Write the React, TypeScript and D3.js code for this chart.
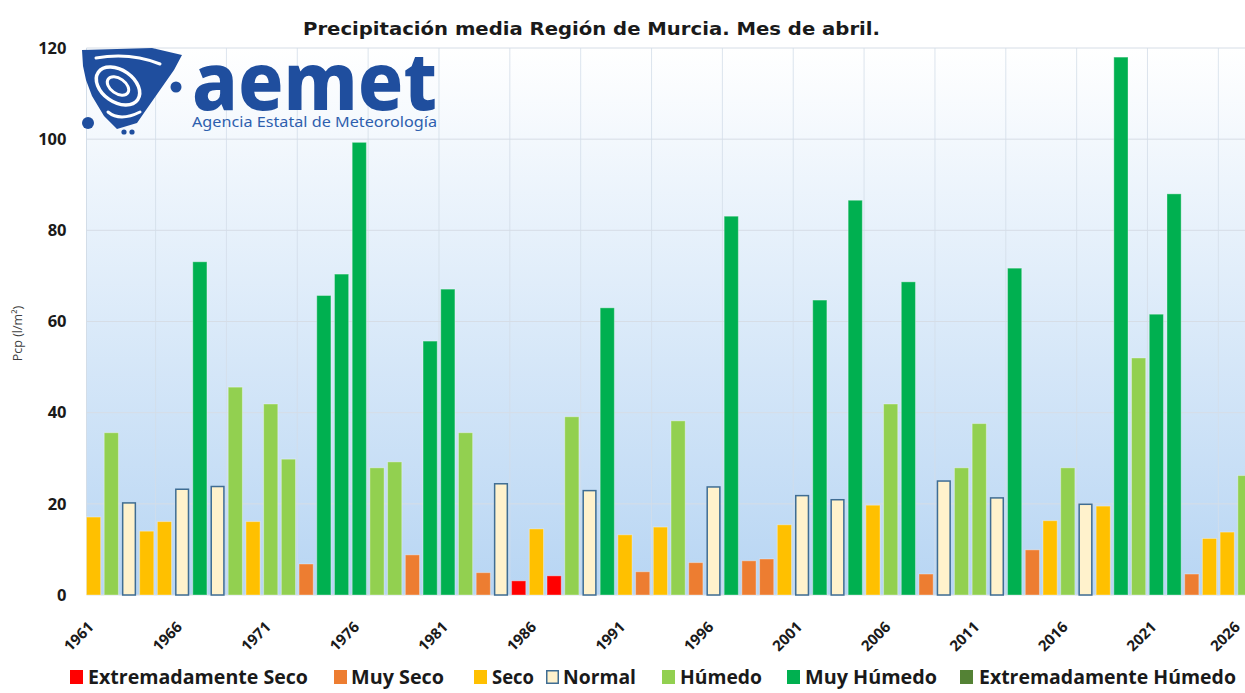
import React from "react";
import * as d3 from "d3";

const years = [
  1961, 1962, 1963, 1964, 1965, 1966, 1967, 1968, 1969, 1970,
  1971, 1972, 1973, 1974, 1975, 1976, 1977, 1978, 1979, 1980,
  1981, 1982, 1983, 1984, 1985, 1986, 1987, 1988, 1989, 1990,
  1991, 1992, 1993, 1994, 1995, 1996, 1997, 1998, 1999, 2000,
  2001, 2002, 2003, 2004, 2005, 2006, 2007, 2008, 2009, 2010,
  2011, 2012, 2013, 2014, 2015, 2016, 2017, 2018, 2019, 2020,
  2021, 2022, 2023, 2024, 2025, 2026,
];

const pcp = [
  17.1, 35.6, 20.2, 14.0, 16.1, 23.2, 73.1, 23.8, 45.6, 16.1,
  41.9, 29.8, 6.8, 65.7, 70.4, 99.3, 27.9, 29.2, 8.8, 55.7,
  67.1, 35.6, 4.9, 24.4, 3.1, 14.5, 4.2, 39.1, 22.9, 63.0,
  13.2, 5.1, 14.9, 38.2, 7.1, 23.7, 83.1, 7.5, 7.9, 15.4,
  21.8, 64.7, 20.9, 86.6, 19.7, 41.9, 68.7, 4.6, 25.0, 27.9,
  37.6, 21.3, 71.7, 9.9, 16.3, 27.9, 19.9, 19.5, 118.0, 52.0,
  61.6, 88.0, 4.6, 12.4, 13.8, 26.2,
];

// ES: Extremadamente Seco, MS: Muy Seco, S: Seco, N: Normal, H: Húmedo, MH: Muy Húmedo, EH: Extremadamente Húmedo
const category = [
  "S", "H", "N", "S", "S", "N", "MH", "N", "H", "S",
  "H", "H", "MS", "MH", "MH", "MH", "H", "H", "MS", "MH",
  "MH", "H", "MS", "N", "ES", "S", "ES", "H", "N", "MH",
  "S", "MS", "S", "H", "MS", "N", "MH", "MS", "MS", "S",
  "N", "MH", "N", "MH", "S", "H", "MH", "MS", "N", "H",
  "H", "N", "MH", "MS", "S", "H", "N", "S", "MH", "H",
  "MH", "MH", "MS", "S", "S", "H",
];

const tickYears = [1961, 1966, 1971, 1976, 1981, 1986, 1991, 1996, 2001, 2006, 2011, 2016, 2021, 2026];
const yTicks = [0, 20, 40, 60, 80, 100, 120];

const classKeys = ["ES", "MS", "S", "N", "H", "MH", "EH"];
const classNames = [
  "Extremadamente Seco", "Muy Seco", "Seco", "Normal", "Húmedo", "Muy Húmedo", "Extremadamente Húmedo",
];
const classColors = ["#ff0000", "#ed7d31", "#ffc000", "#fff2cc", "#92d050", "#00b050", "#548235"];

const title = "Precipitación media Región de Murcia. Mes de abril.";

// layout
const W = 1245;
const H = 693;
const plotLeft = 86.5;
const plotRight = 1252;
const plotTop = 48;
const plotBottom = 595;
const legendLayout = [
  { sq: 70, tx: 88, w: 220 },
  { sq: 334, tx: 351, w: 93 },
  { sq: 474, tx: 492, w: 42 },
  { sq: 546, tx: 563, w: 73 },
  { sq: 662, tx: 680, w: 82 },
  { sq: 787, tx: 805, w: 132 },
  { sq: 960, tx: 979, w: 257 },
];

const colorOf = d3.scaleOrdinal<string, string>().domain(classKeys).range(classColors);

export default function App() {
  const x = d3
    .scaleBand<number>()
    .domain(years)
    .range([plotLeft, plotRight])
    .paddingInner(0.2)
    .paddingOuter(0);
  const y = d3.scaleLinear().domain([0, 120]).range([plotBottom, plotTop]);
  const bw = x.bandwidth();
  const step = x.step();

  const vGrid = d3.range(4, years.length, 4).map((i) => (x(years[i]) as number) - step * 0.1);

  const fontAxis = "'Open Sans', 'Noto Sans', sans-serif";

  return (
    <svg
      width={W}
      height={H}
      style={{ position: "absolute", left: 0, top: 0, background: "#ffffff" }}
    >
      <defs>
        <linearGradient id="bg" x1="0" y1="0" x2="0" y2="1">
          <stop offset="0%" stopColor="#ffffff" />
          <stop offset="100%" stopColor="#b7d5f3" />
        </linearGradient>
      </defs>
      <rect x={0} y={0} width={W} height={H} fill="#ffffff" />
      <rect
        x={plotLeft}
        y={plotTop}
        width={W - plotLeft}
        height={plotBottom - plotTop}
        fill="url(#bg)"
      />
      {/* horizontal gridlines */}
      {yTicks.map((t) => (
        <line
          key={"h" + t}
          x1={plotLeft}
          x2={W}
          y1={y(t)}
          y2={y(t)}
          stroke="#d6dde6"
          strokeWidth={1}
        />
      ))}
      {/* vertical gridlines */}
      {vGrid.map((gx, i) => (
        <line
          key={"v" + i}
          x1={gx}
          x2={gx}
          y1={plotTop}
          y2={plotBottom}
          stroke="#d3dde8"
          strokeOpacity={0.8}
          strokeWidth={1}
        />
      ))}
      <line x1={plotLeft} x2={plotLeft} y1={plotTop} y2={plotBottom} stroke="#d3dde8" />

      {/* bars */}
      {years.map((yr, i) => {
        const c = category[i];
        const bx = x(yr) as number;
        const top = y(pcp[i]);
        const isNormal = c === "N";
        return (
          <rect
            key={yr}
            x={isNormal ? bx + 0.75 : bx}
            y={top}
            width={isNormal ? bw - 1.5 : bw}
            height={plotBottom - top}
            fill={colorOf(c)}
            stroke={isNormal ? "#3f6d93" : "#ffffff"}
            strokeOpacity={isNormal ? 1 : 0.35}
            strokeWidth={isNormal ? 1.5 : 1}
          />
        );
      })}

      {/* y axis labels */}
      {yTicks.map((t) => (
        <text
          key={"yl" + t}
          x={66.5}
          y={y(t) + 5.8}
          textAnchor="end"
          fontFamily={fontAxis}
          fontWeight={700}
          fontSize={16.5}
          fill="#1a1a1a"
        >
          {t}
        </text>
      ))}
      <text
        transform={`translate(22,${(plotTop + plotBottom) / 2 + 12}) rotate(-90)`}
        textAnchor="middle"
        fontFamily={fontAxis}
        fontSize={12.5}
        fill="#404040"
      >
        Pcp (l/m²)
      </text>

      {/* x axis labels */}
      {tickYears.map((t) => {
        const cx = (x(t) as number) + bw / 2;
        const ax = Math.min(cx + 1, W - 4);
        return (
          <text
            key={"xl" + t}
            transform={`translate(${ax},${628}) rotate(-45)`}
            textAnchor="end"
            fontFamily={fontAxis}
            fontWeight={700}
            fontSize={15}
            fill="#1a1a1a"
          >
            {t}
          </text>
        );
      })}

      {/* title */}
      <text
        x={591.5}
        y={35}
        textAnchor="middle"
        fontFamily="'DejaVu Sans', Verdana, sans-serif"
        fontWeight={700}
        fontSize={17}
        textLength={577}
        lengthAdjust="spacingAndGlyphs"
        fill="#1a1a1a"
      >
        {title}
      </text>

      {/* legend */}
      {classNames.map((name, i) => {
        const L = legendLayout[i];
        const isNormal = classKeys[i] === "N";
        return (
          <g key={"lg" + i}>
            <rect
              x={L.sq + (isNormal ? 0.75 : 0)}
              y={670 + (isNormal ? 0.75 : 0)}
              width={isNormal ? 11.5 : 13}
              height={isNormal ? 12.5 : 14}
              fill={classColors[i]}
              stroke={isNormal ? "#3f6d93" : "none"}
              strokeWidth={1.5}
            />
            <text
              x={L.tx}
              y={684}
              fontFamily={fontAxis}
              fontWeight={700}
              fontSize={19}
              textLength={L.w}
              lengthAdjust="spacingAndGlyphs"
              fill="#1a1a1a"
            >
              {name}
            </text>
          </g>
        );
      })}

      {/* AEMET logo */}
      <g>
        <path
          d="M82,50 L152,48 L182,55 L174,70 L160,90 L146,110 L137,123 L117,129 L104,116 L92,96 L86,80 L83,66 Z"
          fill="#1f4e9e"
        />
        <ellipse
          cx={118}
          cy={86}
          rx={24}
          ry={16}
          transform="rotate(35 118 86)"
          fill="none"
          stroke="#ffffff"
          strokeWidth={3.5}
        />
        <ellipse
          cx={118}
          cy={86}
          rx={12}
          ry={7.5}
          transform="rotate(35 118 86)"
          fill="none"
          stroke="#ffffff"
          strokeWidth={3}
        />
        <path
          d="M96,58 Q130,52 160,64 M140,112 Q120,122 108,112"
          fill="none"
          stroke="#ffffff"
          strokeWidth={3}
          strokeLinecap="round"
        />
        <circle cx={88} cy={123} r={6} fill="#1f4e9e" />
        <circle cx={124} cy={132} r={2.6} fill="#1f4e9e" />
        <circle cx={132} cy={132} r={2.6} fill="#1f4e9e" />
        <circle cx={176} cy={87} r={5.5} fill="#1f4e9e" />
        <text
          x={192}
          y={110}
          fontFamily="'Noto Sans', 'Open Sans', sans-serif"
          fontWeight={800}
          fontSize={80}
          textLength={245}
          lengthAdjust="spacingAndGlyphs"
          fill="#1f4e9e"
        >
          aemet
        </text>
        <text
          x={192}
          y={127}
          fontFamily="'Noto Sans', 'Open Sans', sans-serif"
          fontSize={14.5}
          textLength={245}
          lengthAdjust="spacingAndGlyphs"
          fill="#2e5fae"
        >
          Agencia Estatal de Meteorología
        </text>
      </g>
    </svg>
  );
}
